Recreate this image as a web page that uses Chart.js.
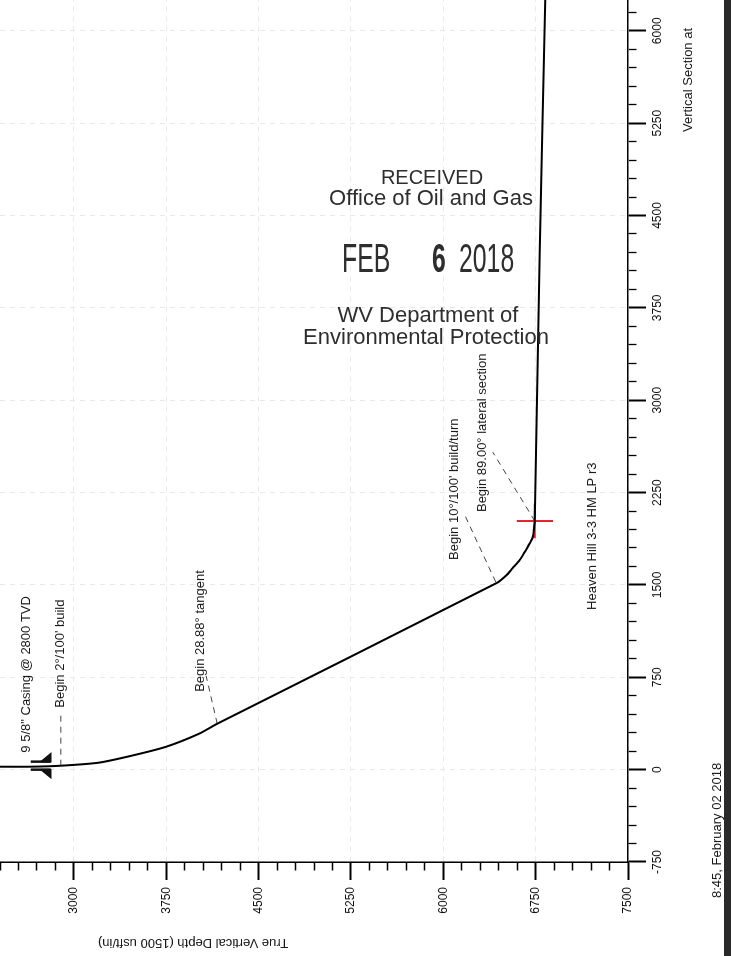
<!DOCTYPE html>
<html>
<head>
<meta charset="utf-8">
<script src="https://cdn.jsdelivr.net/npm/chart.js@4.4.1/dist/chart.umd.min.js"></script>
<style>
html, body { margin: 0; padding: 0; background: #fff; }
body { width: 731px; height: 956px; position: relative; overflow: hidden; font-family: "Liberation Sans", Arial, sans-serif; }
/* the section is printed sideways, so the whole chart is turned a quarter turn */
#plot { position: absolute; left: 0; top: 0; width: 956px; height: 731px; transform-origin: 0 0; transform: translateY(956px) rotate(-90deg); }
#stamp div { position: absolute; white-space: nowrap; color: #2e2e2e; width: 400px; text-align: center; }
#stamp span { position: absolute; white-space: nowrap; color: #2e2e2e; font-size: 40px; line-height: 40px; transform-origin: 0 0; transform: scaleX(0.62); }
#edge { position: absolute; left: 724px; top: 0; width: 7px; height: 956px; background: #2a2a2a; }
</style>
</head>
<body>
<div id="plot"><canvas id="myChart" width="956" height="731"></canvas></div>
<div id="stamp">
  <div style="left:232px;top:167px;font-size:20px;line-height:20px;">RECEIVED</div>
  <div style="left:231px;top:187px;font-size:22px;line-height:22px;">Office of Oil and Gas</div>
  <span style="left:342px;top:238px;">FEB</span>
  <span style="left:432px;top:238px;font-weight:bold;">6</span>
  <span style="left:459px;top:238px;">2018</span>
  <div style="left:228px;top:304px;font-size:22px;line-height:22px;">WV Department of</div>
  <div style="left:226px;top:326px;font-size:22px;line-height:22px;">Environmental Protection</div>
</div>
<div id="edge"></div>
<script>
// well path: TVD (down) against vertical section (out)
const pathTVD = [2350, 2650, 2894, 3204, 3472, 3749, 4017, 4164, 6434, 6515, 6564, 6621, 6662, 6694, 6727, 6735, 6743, 6784, 6829];
const pathVS  = [24, 24, 32, 57, 114, 186, 292, 373, 1516, 1581, 1638, 1703, 1768, 1824, 1889, 1946, 2019, 4216, 6300];

// red target cross at landing point
const crossTVD = [6597, 6890];
const crossVS = [2019, 2019];
const crossTVD2 = [6743, 6743];
const crossVS2 = [1880, 2160];

// 9 5/8" casing shoe marks
const shoeTVD = [2732, 2813, 2813, 2732];
const shoeUpVS = [65, 65, 130, 65];
const shoeDownVS = [0, 0, -65, 0];
const shoeBarTVD = [2650, 2813];
const shoeBarUpVS = [65, 65];
const shoeBarDownVS = [0, 0];

// labels along the path
const noteText = ['9 5/8" Casing @ 2800 TVD', "Begin 2\u00b0/100' build", 'Begin 28.88\u00b0 tangent',
  "Begin 10\u00b0/100' build/turn", 'Begin 89.00\u00b0 lateral section', 'Heaven Hill 3-3 HM LP r3'];
const noteTVD = [2618, 2894, 4025, 6092, 6320, 7215];
const noteVS = [138, 503, 632, 1703, 2092, 1297];

// dashed leaders from the path to the labels
const leaderTVD = [[2894, 2894], [4164, 4074], [6426, 6174], [6743, 6402]];
const leaderVS = [[32, 470], [373, 762], [1524, 2068], [2019, 2578]];

const vsMin = -750, vsMax = 6250;
const tvdMin = 2400, tvdMax = 7500;
const majorStep = 750, minorStep = 150;

function pts(tvd, vs) {
    return tvd.map(function(t, i) { return {x: vs[i], y: t}; });
}
function isMajor(c) {
    return c.tick && Math.abs(c.tick.value % majorStep) < 1e-6;
}

const fontFam = '"Liberation Sans", Arial, sans-serif';
Chart.defaults.font.family = fontFam;

const datasets = [
    {data: pts(pathTVD, pathVS), borderColor: '#000', borderWidth: 2, tension: 0.25},
    {data: pts(crossTVD, crossVS), borderColor: '#e3242b', borderWidth: 2},
    {data: pts(crossTVD2, crossVS2), borderColor: '#e3242b', borderWidth: 2},
    {data: pts(shoeTVD, shoeUpVS), borderColor: '#111', backgroundColor: '#111', borderWidth: 1.5, fill: 'shape'},
    {data: pts(shoeTVD, shoeDownVS), borderColor: '#111', backgroundColor: '#111', borderWidth: 1.5, fill: 'shape'},
    {data: pts(shoeBarTVD, shoeBarUpVS), borderColor: '#111', borderWidth: 2.5},
    {data: pts(shoeBarTVD, shoeBarDownVS), borderColor: '#111', borderWidth: 2.5}
];
leaderTVD.forEach(function(t, i) {
    datasets.push({data: pts(t, leaderVS[i]), borderColor: '#444', borderWidth: 1, borderDash: [6, 5]});
});
datasets.forEach(function(d) {
    d.showLine = true;
    d.pointRadius = 0;
    if (d.tension === undefined) d.tension = 0;
});

const notes = {
    id: 'notes',
    afterDatasetsDraw(chart) {
        const ctx = chart.ctx;
        const x = chart.scales.x, y = chart.scales.y;
        const area = chart.chartArea;
        ctx.save();
        ctx.fillStyle = '#1a1a1a';
        ctx.font = '13px ' + fontFam;
        ctx.textBaseline = 'middle';
        ctx.textAlign = 'left';
        noteText.forEach(function(t, i) {
            ctx.fillText(t, x.getPixelForValue(noteVS[i]), y.getPixelForValue(noteTVD[i]));
        });
        ctx.fillText('Vertical Section at', 824, area.bottom + 60);
        ctx.fillText('8:45, February 02 2018', 58, area.bottom + 89);
        ctx.translate(13, 193);
        ctx.rotate(-Math.PI / 2);
        ctx.textAlign = 'center';
        ctx.fillText('True Vertical Depth (1500 usft/in)', 0, 0);
        ctx.restore();
    }
};

const ctx = document.getElementById('myChart').getContext('2d');
const myChart = new Chart(ctx, {
    type: 'scatter',
    data: {datasets: datasets},
    plugins: [notes],
    options: {
        responsive: false,
        animation: false,
        devicePixelRatio: 1,
        layout: {padding: 0},
        plugins: {legend: {display: false}, tooltip: {enabled: false}},
        scales: {
            x: {
                type: 'linear', position: 'bottom', min: vsMin, max: vsMax,
                afterFit: function(s) { s.height = 103; s.paddingLeft = 0; s.paddingRight = 0; },
                ticks: {
                    stepSize: minorStep, autoSkip: false, includeBounds: false,
                    maxRotation: 0, minRotation: 0, padding: 4, color: '#111',
                    font: {size: 12},
                    callback: function(v) { return Math.abs(v % majorStep) < 1e-6 ? String(v) : ''; }
                },
                grid: {
                    color: function(c) { return isMajor(c) ? '#e9e9e9' : 'rgba(0,0,0,0)'; },
                    lineWidth: 1, tickLength: 18, tickColor: '#000',
                    tickWidth: function(c) { return isMajor(c) ? 2 : 1.3; },
                    tickBorderDash: function(c) { return isMajor(c) ? [] : [8, 100]; }
                },
                border: {color: '#000', width: 1.5, dash: [5, 5]}
            },
            y: {
                type: 'linear', position: 'left', reverse: true, min: tvdMin, max: tvdMax,
                afterFit: function(s) { s.width = 94; s.paddingTop = 0; s.paddingBottom = 0; },
                ticks: {
                    stepSize: minorStep, autoSkip: false, includeBounds: false,
                    padding: 7, color: '#111', font: {size: 12},
                    callback: function(v) { return Math.abs(v % majorStep) < 1e-6 ? String(v) : ''; }
                },
                grid: {
                    color: function(c) { return isMajor(c) ? '#e9e9e9' : 'rgba(0,0,0,0)'; },
                    lineWidth: 1, tickLength: 18, tickColor: '#000',
                    tickWidth: function(c) { return isMajor(c) ? 2 : 1.3; },
                    tickBorderDash: function(c) { return isMajor(c) ? [] : [0, 9.5, 9, 100]; }
                },
                border: {color: '#000', width: 1.5, dash: [5, 5]}
            }
        }
    }
});
</script>
</body>
</html>
